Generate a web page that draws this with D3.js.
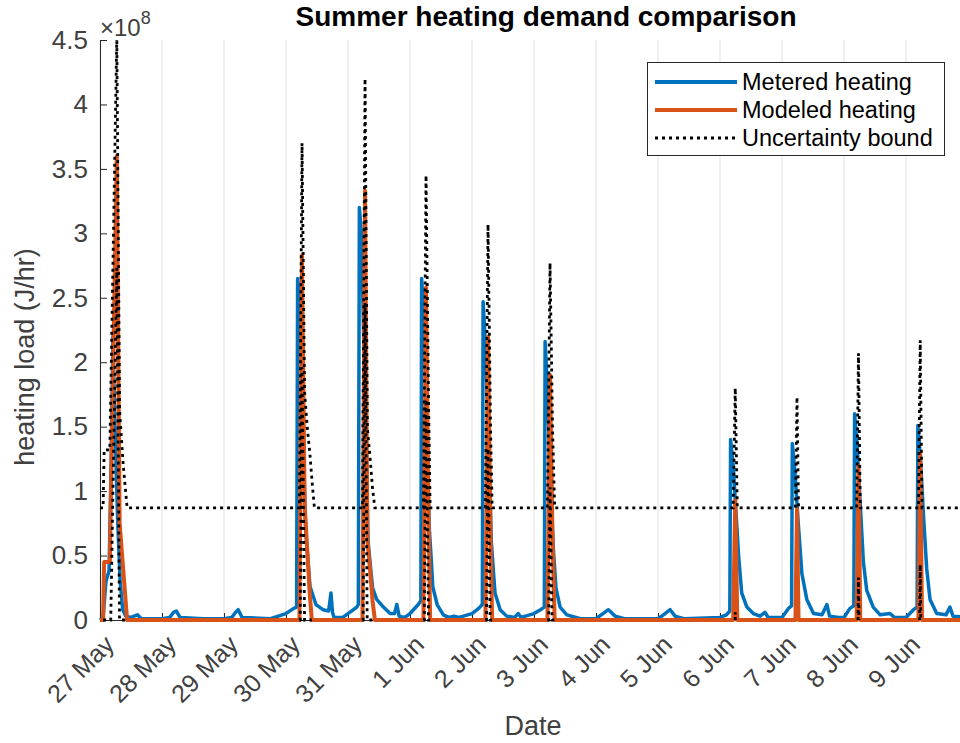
<!DOCTYPE html>
<html>
<head>
<meta charset="utf-8">
<script src="https://cdn.jsdelivr.net/npm/d3@7"></script>
<style>
  html, body { margin: 0; padding: 0; background: #fff; }
  svg { display: block; }
  text { font-family: "Liberation Sans", Arial, Helvetica, sans-serif; }
</style>
</head>
<body>
<svg id="chart" width="960" height="743"></svg>
<script>
// Hours are counted from 27 May 00:00; loads are in units of 1e8 J/hr.
const dayLabels = ["27 May", "28 May", "29 May", "30 May", "31 May", "1 Jun", "2 Jun",
                   "3 Jun", "4 Jun", "5 Jun", "6 Jun", "7 Jun", "8 Jun", "9 Jun"];
const dayHours = [0, 24, 48, 72, 96, 120, 144, 168, 192, 216, 240, 264, 288, 312];
const yTicks = [0, 0.5, 1, 1.5, 2, 2.5, 3, 3.5, 4, 4.5];
const yTickLabels = ["0", "0.5", "1", "1.5", "2", "2.5", "3", "3.5", "4", "4.5"];
const legendLabels = ["Metered heating", "Modeled heating", "Uncertainty bound"];

// Metered heating load: [hour, load]
const metered = [
  [0, 0], [1.2, 0.02], [2.3, 0.3], [3.5, 0.38], [4.3, 1.2], [5.0, 2.2], [5.8, 1.5], [6.8, 0.8],
  [7.8, 0.3], [8.8, 0.08], [10, 0.03], [12, 0.02], [14.5, 0.04], [16, 0.01],
  [24, 0.01], [27, 0.02], [28.5, 0.06], [29.5, 0.07], [31, 0.02], [40, 0.01],
  [48, 0.01], [51, 0.02], [52.5, 0.06], [53.5, 0.08], [55, 0.02], [66, 0.01],
  [72, 0.05], [75, 0.09], [76.1, 0.1], [76.5, 2.65], [77.3, 2.5], [78.5, 1.5], [79.6, 0.7],
  [81.3, 0.26], [83.6, 0.12], [86.3, 0.08], [88.5, 0.07], [89.4, 0.21], [90, 0.06], [90.6, 0.02], [94, 0.02],
  [96, 0.05], [99.4, 0.1], [100.0, 0.12], [100.4, 3.2], [101.2, 3.0], [102.5, 1.8], [103.8, 0.6],
  [105.5, 0.25], [107.1, 0.16], [109.7, 0.1], [112.3, 0.05], [114, 0.05], [114.9, 0.12], [115.8, 0.03], [118, 0.02],
  [120, 0.05], [123.2, 0.12], [124.2, 0.15], [124.5, 2.65], [125.5, 2.3], [126.5, 1.4], [127.5, 0.7],
  [128.3, 0.45], [128.8, 0.26], [130.5, 0.12], [132.9, 0.04], [135, 0.02], [137, 0.03], [139, 0.02],
  [144, 0.05], [146.6, 0.09], [148.0, 0.12], [148.3, 2.47], [149.3, 2.1], [150.5, 1.3], [151.5, 0.6],
  [152.9, 0.21], [154.9, 0.08], [157.4, 0.03], [160.5, 0.02], [161.9, 0.05], [163, 0.02],
  [168, 0.05], [170.5, 0.08], [172.0, 0.1], [172.3, 2.16], [173.2, 1.8], [174.3, 1.1], [175.5, 0.55],
  [176.5, 0.25], [178.1, 0.1], [180.7, 0.04], [186, 0.01],
  [192, 0.01], [194.7, 0.05], [196.8, 0.08], [199.4, 0.03], [203, 0.01],
  [216, 0.01], [218.1, 0.04], [220.7, 0.08], [222.6, 0.03], [226, 0.01],
  [240, 0.02], [242.5, 0.04], [243.8, 0.07], [244.1, 1.4], [245.1, 1.2], [246.3, 0.8], [247.2, 0.5],
  [248.4, 0.21], [250.4, 0.1], [252.9, 0.05], [255.5, 0.03], [257.4, 0.06], [258.6, 0.02], [262, 0.02],
  [264, 0.02], [266.5, 0.09], [267.7, 0.11], [268.0, 1.37], [269.0, 1.15], [270.3, 0.75], [271.7, 0.36],
  [273.6, 0.16], [276.2, 0.05], [279.5, 0.04], [281.4, 0.12], [282.4, 0.03], [286, 0.02],
  [288, 0.02], [290.3, 0.09], [291.8, 0.11], [292.1, 1.6], [293.1, 1.35], [294.3, 0.9], [295.5, 0.45],
  [296.8, 0.23], [299.3, 0.1], [302, 0.04], [305.8, 0.05], [307.5, 0.02],
  [312, 0.02], [314.9, 0.08], [316.3, 0.1], [316.6, 1.51], [317.6, 1.25], [318.8, 0.8], [320, 0.4],
  [321.3, 0.16], [323.9, 0.05], [327.5, 0.04], [329, 0.1], [330.2, 0.03], [336, 0.02]
];

// Modeled heating load: [hour, load]
const modeled = [
  [0, 0], [1.2, 0], [1.6, 0.45], [3.8, 0.45], [6.5, 3.6], [7.6, 0.75], [10.5, 0],
  [77.2, 0], [78.2, 2.83], [79.2, 0.9], [80.2, 0.55], [81.2, 0.2], [82, 0],
  [101.6, 0], [102.6, 3.33], [103.5, 0.62], [104.5, 0.4], [105.5, 0.15], [106.4, 0],
  [125.2, 0], [126.2, 2.58], [127.2, 0.8], [127.8, 0],
  [149.2, 0], [150.2, 2.2], [151.2, 0.6], [151.8, 0],
  [173.2, 0], [174.2, 1.9], [175.2, 0.6], [176, 0],
  [245.1, 0], [245.9, 0.93], [246.7, 0],
  [269.2, 0], [269.8, 0.86], [270.4, 0],
  [292.9, 0], [293.6, 1.2], [294.3, 0],
  [316.8, 0], [317.5, 1.3], [318.2, 0],
  [336, 0]
];

// Upper uncertainty bound: [hour, load]
const upperBound = [
  [0, 0.87], [1.2, 0.87], [1.6, 1.32], [3.8, 1.32], [6.5, 4.52], [7.6, 1.62], [9, 1.2], [10.5, 0.87],
  [77.2, 0.87], [78.2, 3.7], [79.2, 1.77], [80.2, 1.5], [81.2, 1.3], [82.2, 1.05], [83, 0.87],
  [101.6, 0.87], [102.6, 4.2], [103.5, 1.49], [104.5, 1.27], [105.5, 1.02], [106.4, 0.87],
  [125.2, 0.87], [126.2, 3.45], [127.2, 1.67], [127.8, 0.87],
  [149.2, 0.87], [150.2, 3.07], [151.2, 1.47], [151.8, 0.87],
  [173.2, 0.87], [174.2, 2.77], [175.2, 1.47], [176, 0.87],
  [245.1, 0.87], [245.9, 1.8], [246.7, 0.87],
  [269.2, 0.87], [269.8, 1.73], [270.4, 0.87],
  [292.9, 0.87], [293.6, 2.07], [294.3, 0.87],
  [316.8, 0.87], [317.5, 2.17], [318.2, 0.87],
  [336, 0.87]
];

// Lower uncertainty bound, only present around each heating event
const lowerBound = [
  [[1.2, 0], [4.16, 0], [6.5, 2.73], [7.55, 0], [10.5, 0]],
  [[77.2, 0], [77.51, 0], [78.2, 1.96], [79.18, 0], [82, 0]],
  [[101.6, 0], [101.86, 0], [102.6, 2.46], [103.42, 0], [106.4, 0]],
  [[125.2, 0], [125.54, 0], [126.2, 1.71], [127.16, 0], [127.8, 0]],
  [[149.2, 0], [149.6, 0], [150.2, 1.33], [151.03, 0], [151.8, 0]],
  [[173.2, 0], [173.66, 0], [174.2, 1.03], [174.99, 0], [176, 0]],
  [[245.85, 0], [245.9, 0.06], [245.95, 0]],
  [[293.41, 0], [293.6, 0.33], [293.79, 0]],
  [[317.27, 0], [317.5, 0.43], [317.73, 0]]
];

const colors = { metered: "#0072BD", modeled: "#D95319", bound: "#000000", axis: "#262626", grid: "#e2e2e2" };

const svg = d3.select("#chart");
svg.append("rect").attr("width", 960).attr("height", 743).attr("fill", "#fff");

const x = d3.scaleLinear().domain([0, 336]).range([100, 968]);
const y = d3.scaleLinear().domain([0, 4.5]).range([620, 40]);

// vertical grid lines at each day
svg.append("g").selectAll("line").data(dayHours).join("line")
  .attr("x1", d => x(d)).attr("x2", d => x(d))
  .attr("y1", y(0)).attr("y2", y(4.5))
  .attr("stroke", colors.grid).attr("stroke-width", 1);

// y axis
const yAxis = svg.append("g").attr("transform", `translate(${x(0)},0)`)
  .call(d3.axisLeft(y).tickValues(yTicks).tickFormat((d, i) => yTickLabels[i])
    .tickSizeInner(-7).tickSizeOuter(0).tickPadding(12))
  .attr("color", colors.axis);
yAxis.selectAll("text").attr("font-size", 26).attr("font-family", null).attr("fill", "#404040");
yAxis.select(".domain").attr("stroke-width", 1);

// x axis
const xAxis = svg.append("g").attr("transform", `translate(0,${y(0)})`)
  .call(d3.axisBottom(x).tickValues(dayHours).tickFormat((d, i) => dayLabels[i])
    .tickSizeInner(-7).tickSizeOuter(0))
  .attr("color", colors.axis);
xAxis.selectAll("text")
  .attr("font-size", 25).attr("font-family", null).attr("fill", "#404040")
  .attr("x", 0).attr("y", 0).attr("dy", "0.35em")
  .attr("text-anchor", "end")
  .attr("transform", "translate(9,20) rotate(-45)");

// data layer, clipped to the plot area
svg.append("clipPath").attr("id", "plotClip")
  .append("rect").attr("x", 98).attr("y", y(4.5)).attr("width", 870).attr("height", 590);

const plot = svg.append("g").attr("clip-path", "url(#plotClip)");
const line = d3.line().x(d => x(d[0])).y(d => y(d[1]));

plot.append("path").datum(metered).attr("d", line)
  .attr("fill", "none").attr("stroke", colors.metered).attr("stroke-width", 3.5)
  .attr("stroke-linejoin", "round");

plot.append("path").datum(modeled).attr("d", line)
  .attr("fill", "none").attr("stroke", colors.modeled).attr("stroke-width", 4)
  .attr("stroke-linejoin", "round");

const dotted = "3,4";
plot.append("path").datum(upperBound).attr("d", line)
  .attr("fill", "none").attr("stroke", colors.bound).attr("stroke-width", 2.8)
  .attr("stroke-dasharray", dotted);

plot.selectAll(".lower").data(lowerBound).join("path").attr("class", "lower")
  .attr("d", line)
  .attr("fill", "none").attr("stroke", colors.bound).attr("stroke-width", 2.8)
  .attr("stroke-dasharray", dotted);

// exponent label
const expo = svg.append("text").attr("x", 100).attr("y", 36).attr("fill", "#404040").attr("font-size", 24);
expo.append("tspan").text("×10");
expo.append("tspan").attr("font-size", 18).attr("dy", -12).text("8");

// title and axis labels
svg.append("text").attr("x", 546).attr("y", 26).attr("text-anchor", "middle")
  .attr("font-size", 28).attr("font-weight", "bold").attr("fill", "#000")
  .text("Summer heating demand comparison");

svg.append("text").attr("x", 533).attr("y", 735).attr("text-anchor", "middle")
  .attr("font-size", 27).attr("fill", "#404040").text("Date");

svg.append("text").attr("transform", "translate(34,357) rotate(-90)").attr("text-anchor", "middle")
  .attr("font-size", 27).attr("fill", "#404040").text("heating load (J/hr)");

// legend
const legend = svg.append("g");
legend.append("rect").attr("x", 647.5).attr("y", 62.5).attr("width", 297).attr("height", 93)
  .attr("fill", "#fff").attr("stroke", colors.axis).attr("stroke-width", 1);
const legendStyles = [
  { stroke: colors.metered, width: 4, dash: null },
  { stroke: colors.modeled, width: 4, dash: null },
  { stroke: colors.bound, width: 2.8, dash: dotted }
];
const legendRows = legend.selectAll("g.row").data(legendLabels).join("g")
  .attr("class", "row").attr("transform", (d, i) => `translate(0,${82 + i * 28})`);
legendRows.append("line").attr("x1", 655).attr("x2", 737)
  .attr("stroke", (d, i) => legendStyles[i].stroke)
  .attr("stroke-width", (d, i) => legendStyles[i].width)
  .attr("stroke-dasharray", (d, i) => legendStyles[i].dash);
legendRows.append("text").attr("x", 742).attr("dy", "0.35em")
  .attr("font-size", 23.5).attr("fill", "#000").text(d => d);
</script>
</body>
</html>
